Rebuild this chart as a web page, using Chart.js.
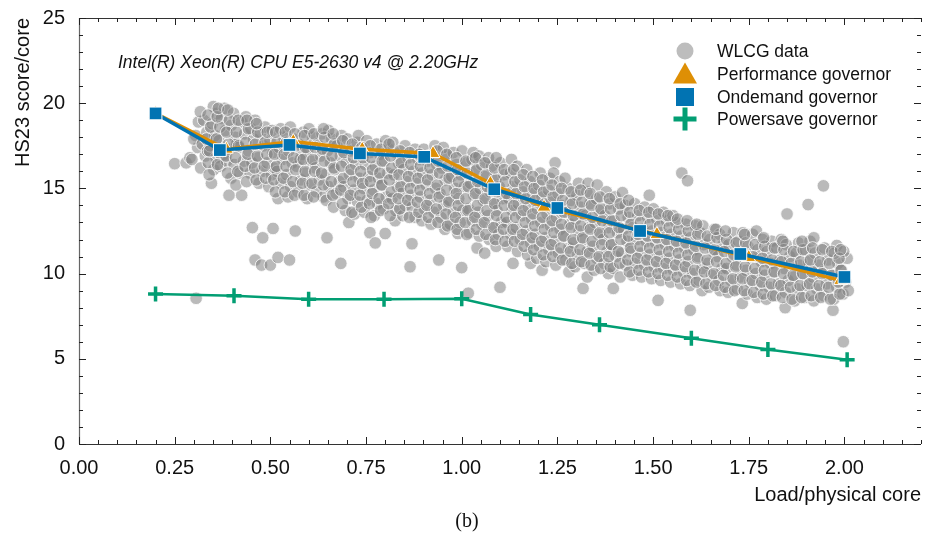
<!DOCTYPE html>
<html>
<head>
<meta charset="utf-8">
<script src="https://cdn.jsdelivr.net/npm/chart.js@4/dist/chart.umd.min.js"></script>
<style>
  html, body { margin: 0; padding: 0; background: #fff; }
  #wrap { width: 934px; height: 541px; }
</style>
</head>
<body>
<div id="wrap"><canvas id="c" width="934" height="541"></canvas></div>
<script>
// axis ticks
const xTicks = [0, 0.25, 0.5, 0.75, 1.0, 1.25, 1.5, 1.75, 2.0];
const yTicks = [0, 5, 10, 15, 20, 25];

// governor benchmark runs
const perfLoad = [0.2, 0.385, 0.56, 0.74, 0.925, 1.075, 1.215, 1.51, 1.75, 1.99];
const perfScore = [19.4, 17.3, 17.75, 17.3, 17.05, 15.3, 13.9, 12.3, 10.95, 9.6];
const ondemandLoad = [0.2, 0.368, 0.55, 0.734, 0.902, 1.085, 1.25, 1.466, 1.728, 2.0];
const ondemandScore = [19.4, 17.25, 17.55, 17.05, 16.85, 14.95, 13.85, 12.5, 11.15, 9.8];
const powersaveLoad = [0.2, 0.405, 0.6, 0.797, 1.0, 1.18, 1.36, 1.6, 1.8, 2.007];
const powersaveScore = [8.8, 8.7, 8.5, 8.5, 8.52, 7.6, 7.0, 6.2, 5.55, 4.95];

// WLCG job measurements (load, score)
const wlcgPoints = [
  [0.25,16.45],[0.28,16.5],[0.306,8.55],[0.29,16.8],
  [0.295,16.7],[0.31,17.4],[0.305,18.1],[0.312,18.9],[0.30,17.9],
  [0.318,16.2],[0.33,16.9],[0.322,17.6],[0.334,18.3],[0.326,19.0],[0.317,19.5],[0.336,17.2],
  [0.346,15.3],[0.352,16.1],[0.358,16.8],[0.343,17.5],[0.355,18.1],[0.348,18.8],[0.36,19.4],[0.351,19.8],
  [0.37,16.3],[0.378,17.0],[0.366,17.8],[0.383,18.4],[0.372,19.1],[0.38,19.7],[0.386,16.6],
  [0.392,14.6],[0.397,15.6],[0.405,16.4],[0.394,17.3],[0.408,18.0],[0.398,18.7],[0.404,19.4],[0.412,17.6],
  [0.425,14.6],[0.42,15.9],[0.43,16.6],[0.418,17.4],[0.433,18.2],[0.424,18.9],[0.436,19.2],
  [0.447,15.9],[0.452,16.5],[0.443,17.2],[0.456,17.9],[0.449,18.5],[0.46,19.0],[0.453,12.7],[0.46,10.8],
  [0.47,15.3],[0.478,16.0],[0.468,16.8],[0.482,17.5],[0.474,18.2],[0.486,18.6],[0.48,12.1],[0.477,10.5],
  [0.496,15.1],[0.503,15.8],[0.492,16.5],[0.507,17.1],[0.499,17.8],[0.505,18.4],[0.507,12.65],[0.50,10.5],[0.511,16.2],
  [0.52,14.4],[0.528,15.3],[0.518,16.0],[0.532,16.7],[0.523,17.4],[0.535,18.0],[0.527,18.5],[0.52,10.95],
  [0.546,14.5],[0.553,15.1],[0.543,15.8],[0.557,16.5],[0.548,17.2],[0.56,17.9],[0.552,18.6],[0.55,10.8],
  [0.565,12.5],[0.572,14.8],[0.58,15.5],[0.569,16.3],[0.583,17.0],[0.574,17.6],[0.586,18.3],[0.578,16.7],
  [0.596,14.4],[0.603,15.2],[0.592,15.9],[0.607,16.6],[0.598,17.3],[0.61,18.0],[0.601,18.5],
  [0.62,14.8],[0.628,15.5],[0.618,16.2],[0.632,16.9],[0.623,17.6],[0.635,18.2],[0.638,14.5],
  [0.648,12.1],[0.646,14.3],[0.653,15.1],[0.643,15.8],[0.657,16.5],[0.649,17.2],[0.66,17.9],[0.652,18.4],
  [0.665,13.9],[0.672,14.7],[0.68,15.4],[0.668,16.1],[0.683,16.9],[0.674,17.5],[0.686,18.1],[0.684,10.6],
  [0.696,13.7],[0.703,14.4],[0.692,15.1],[0.707,15.8],[0.698,16.5],[0.71,17.2],[0.701,17.9],[0.705,13.0],
  [0.72,13.5],[0.728,14.2],[0.718,14.9],[0.732,15.6],[0.723,16.4],[0.735,17.0],[0.727,17.7],[0.73,18.1],
  [0.746,13.6],[0.753,14.3],[0.743,15.0],[0.757,15.7],[0.748,16.4],[0.76,17.1],[0.752,17.8],[0.76,12.4],
  [0.774,11.8],[0.772,13.4],[0.78,14.1],[0.769,14.9],[0.783,15.6],[0.774,16.3],[0.786,17.0],[0.778,17.6],
  [0.80,12.35],[0.796,13.8],[0.803,14.5],[0.792,15.2],[0.807,15.9],[0.798,16.6],[0.81,17.3],[0.801,17.8],
  [0.826,13.1],[0.828,13.7],[0.818,14.4],[0.832,15.1],[0.823,15.8],[0.835,16.5],[0.827,17.1],[0.82,17.7],
  [0.846,13.4],[0.853,14.0],[0.843,14.7],[0.857,15.4],[0.848,16.1],[0.86,16.8],[0.852,17.5],
  [0.87,13.9],[0.87,11.75],[0.865,10.4],[0.878,13.3],[0.868,14.6],[0.882,15.3],[0.874,16.0],[0.886,16.7],[0.878,17.3],
  [0.896,13.1],[0.903,13.8],[0.892,14.5],[0.907,15.2],[0.898,15.9],[0.91,16.6],[0.901,17.3],
  [0.92,12.9],[0.928,13.6],[0.918,14.3],[0.932,15.0],[0.923,15.8],[0.935,16.4],[0.927,17.1],[0.93,17.5],
  [0.94,10.8],[0.956,12.6],[0.946,13.3],[0.953,14.0],[0.943,14.7],[0.957,15.5],[0.948,16.2],[0.96,16.9],[0.952,17.4],
  [0.97,12.9],[0.978,13.6],[0.968,14.3],[0.982,15.0],[0.974,15.7],[0.986,16.4],[0.978,17.1],
  [0.99,12.35],[1.0,10.35],[1.017,8.85],[0.996,13.0],[1.003,13.7],[0.992,14.4],[1.007,15.1],[0.998,15.8],[1.01,16.5],[1.001,17.2],
  [1.02,12.4],[1.028,13.1],[1.018,13.8],[1.032,14.6],[1.023,15.3],[1.035,16.0],[1.027,16.7],[1.03,17.1],
  [1.04,11.5],[1.046,12.2],[1.053,12.9],[1.043,13.6],[1.057,14.3],[1.048,15.0],[1.06,15.7],[1.052,16.4],[1.045,16.9],
  [1.06,11.2],[1.072,12.0],[1.08,12.7],[1.069,13.4],[1.083,14.1],[1.074,14.8],[1.086,15.6],[1.078,16.3],[1.07,16.8],
  [1.09,11.6],[1.1,9.2],[1.096,12.3],[1.103,13.0],[1.092,13.7],[1.107,14.4],[1.098,15.1],[1.11,15.8],[1.101,16.5],
  [1.134,10.6],[1.12,11.6],[1.128,12.3],[1.118,13.0],[1.132,13.7],[1.123,14.4],[1.135,15.1],[1.127,15.9],[1.13,16.7],
  [1.146,11.3],[1.153,12.0],[1.143,12.7],[1.157,13.4],[1.148,14.1],[1.16,14.8],[1.152,15.5],[1.145,16.3],
  [1.18,10.6],[1.172,11.1],[1.18,11.8],[1.169,12.5],[1.183,13.2],[1.174,13.9],[1.186,14.7],[1.178,15.4],[1.17,16.1],
  [1.21,10.2],[1.196,10.9],[1.203,11.6],[1.192,12.3],[1.207,13.0],[1.198,13.8],[1.21,14.5],[1.201,15.2],[1.205,15.9],
  [1.22,10.7],[1.228,11.4],[1.218,12.1],[1.232,12.8],[1.223,13.5],[1.235,14.2],[1.227,14.9],[1.23,15.6],
  [1.244,16.5],[1.24,15.9],[1.246,10.5],[1.253,11.2],[1.243,11.9],[1.257,12.6],[1.248,13.3],[1.26,14.0],[1.252,14.7],[1.256,15.4],
  [1.28,10.1],[1.272,10.8],[1.28,11.5],[1.269,12.2],[1.283,12.9],[1.274,13.6],[1.286,14.3],[1.278,15.0],[1.27,15.6],
  [1.296,10.4],[1.303,11.1],[1.292,11.8],[1.307,12.5],[1.298,13.2],[1.31,13.9],[1.301,14.6],[1.305,15.3],
  [1.317,9.13],[1.328,9.8],[1.32,10.6],[1.328,11.3],[1.318,12.0],[1.332,12.7],[1.323,13.4],[1.335,14.1],[1.327,14.8],[1.33,15.3],
  [1.354,15.2],[1.346,10.2],[1.353,10.9],[1.343,11.6],[1.357,12.3],[1.348,13.0],[1.36,13.7],[1.352,14.4],
  [1.383,10.0],[1.372,10.6],[1.38,11.3],[1.369,12.0],[1.383,12.7],[1.374,13.4],[1.386,14.1],[1.378,14.8],
  [1.396,9.13],[1.396,10.3],[1.403,11.0],[1.392,11.7],[1.407,12.4],[1.398,13.1],[1.41,13.8],[1.401,14.5],
  [1.414,9.8],[1.42,14.75],[1.428,10.5],[1.418,11.2],[1.432,11.9],[1.423,12.6],[1.435,13.3],[1.427,14.0],
  [1.446,9.9],[1.453,10.6],[1.443,11.3],[1.457,12.0],[1.448,12.7],[1.46,13.4],[1.452,14.1],
  [1.47,9.8],[1.478,10.5],[1.468,11.2],[1.482,11.9],[1.474,12.6],[1.486,13.3],[1.478,13.9],[1.49,14.6],
  [1.513,8.43],[1.496,9.7],[1.503,10.4],[1.492,11.1],[1.507,11.8],[1.498,12.5],[1.51,13.2],[1.501,13.8],
  [1.52,9.6],[1.528,10.3],[1.518,11.0],[1.532,11.7],[1.523,12.4],[1.535,13.1],[1.527,13.6],
  [1.546,9.5],[1.553,10.2],[1.543,10.9],[1.557,11.6],[1.548,12.3],[1.56,13.0],[1.552,13.4],
  [1.575,15.9],[1.59,15.45],[1.572,9.4],[1.58,10.1],[1.569,10.8],[1.583,11.5],[1.574,12.2],[1.586,12.9],
  [1.597,7.85],[1.596,9.3],[1.603,10.0],[1.592,10.7],[1.607,11.4],[1.598,12.1],[1.61,12.8],
  [1.628,9.0],[1.62,9.6],[1.628,10.3],[1.618,11.0],[1.632,11.7],[1.623,12.4],[1.63,12.8],
  [1.646,9.2],[1.653,9.9],[1.643,10.6],[1.657,11.3],[1.648,12.0],[1.66,12.6],
  [1.675,9.0],[1.672,9.6],[1.68,10.3],[1.669,11.0],[1.683,11.7],[1.674,12.3],
  [1.696,8.9],[1.703,9.6],[1.692,10.3],[1.707,11.0],[1.698,11.7],[1.71,12.4],
  [1.733,8.25],[1.72,9.1],[1.728,9.8],[1.718,10.5],[1.732,11.2],[1.723,11.9],[1.735,12.4],
  [1.746,8.8],[1.753,9.5],[1.743,10.2],[1.757,10.9],[1.748,11.6],[1.76,12.3],
  [1.77,12.5],[1.772,8.6],[1.78,9.3],[1.769,10.0],[1.783,10.7],[1.774,11.4],[1.786,12.0],
  [1.796,8.5],[1.803,9.2],[1.792,9.9],[1.807,10.6],[1.798,11.3],[1.81,11.9],
  [1.82,8.7],[1.828,9.4],[1.818,10.1],[1.832,10.8],[1.823,11.5],[1.835,12.0],
  [1.85,13.5],[1.845,8.0],[1.846,8.9],[1.853,9.6],[1.843,10.3],[1.857,11.0],[1.848,11.7],
  [1.87,8.4],[1.878,9.1],[1.868,9.8],[1.882,10.5],[1.874,11.2],[1.88,11.8],
  [1.905,14.05],[1.896,8.6],[1.903,9.3],[1.892,10.0],[1.907,10.7],[1.898,11.4],[1.91,11.9],
  [1.92,12.1],[1.92,8.4],[1.928,9.1],[1.918,9.8],[1.932,10.5],[1.923,11.2],
  [1.945,15.15],[1.946,8.7],[1.953,9.4],[1.943,10.1],[1.957,10.8],[1.948,11.5],
  [1.97,7.85],[1.98,11.65],[1.972,8.5],[1.98,9.2],[1.969,9.9],[1.983,10.6],[1.974,11.2],
  [1.997,6.0],[1.996,8.8],[2.003,9.5],[1.992,10.2],[2.007,10.9],[1.998,11.3],[2.01,9.0],
  // second batch of runs
  [0.338,16.5],[0.341,17.2],[0.333,17.9],[0.344,18.6],[0.337,19.3],[0.34,15.8],
  [0.362,16.4],[0.366,17.1],[0.359,17.9],[0.368,18.6],[0.361,19.2],[0.364,19.7],
  [0.388,15.9],[0.384,16.9],[0.391,17.6],[0.386,18.3],[0.393,19.0],[0.389,19.6],
  [0.41,15.2],[0.415,16.0],[0.409,16.8],[0.417,17.5],[0.411,18.3],[0.416,19.0],
  [0.438,15.4],[0.434,16.3],[0.441,17.0],[0.436,17.7],[0.443,18.5],[0.439,19.0],
  [0.463,15.5],[0.459,16.2],[0.466,16.9],[0.461,17.6],[0.467,18.3],[0.464,18.8],
  [0.488,15.6],[0.484,16.3],[0.491,17.0],[0.486,17.7],[0.492,18.3],
  [0.513,14.8],[0.509,15.5],[0.516,16.3],[0.511,17.0],[0.517,17.7],[0.514,18.3],
  [0.538,14.8],[0.534,15.6],[0.541,16.3],[0.536,17.0],[0.542,17.7],[0.539,18.3],
  [0.563,14.6],[0.559,15.4],[0.566,16.1],[0.561,16.8],[0.567,17.5],[0.564,18.2],
  [0.588,14.6],[0.584,15.3],[0.591,16.0],[0.586,16.7],[0.592,17.4],[0.589,18.1],
  [0.613,14.5],[0.609,15.3],[0.616,16.0],[0.611,16.7],[0.617,17.4],[0.614,18.2],
  [0.638,15.2],[0.634,15.9],[0.641,16.6],[0.636,17.3],[0.642,18.0],[0.639,18.5],
  [0.663,14.6],[0.659,15.4],[0.666,16.2],[0.661,16.9],[0.667,17.6],[0.664,18.2],
  [0.688,14.1],[0.684,14.9],[0.691,15.6],[0.686,16.3],[0.692,17.1],[0.689,17.8],
  [0.713,13.6],[0.709,14.6],[0.716,15.4],[0.711,16.1],[0.717,16.8],[0.714,17.6],
  [0.738,13.9],[0.734,14.6],[0.741,15.3],[0.736,16.0],[0.742,16.8],[0.739,17.4],
  [0.763,13.3],[0.759,14.1],[0.766,14.7],[0.761,15.4],[0.767,16.1],[0.764,16.8],[0.761,17.5],
  [0.788,13.7],[0.784,14.4],[0.791,15.2],[0.786,15.9],[0.792,16.6],[0.789,17.3],
  [0.813,13.4],[0.809,14.1],[0.816,14.8],[0.811,15.5],[0.817,16.2],[0.814,16.9],[0.81,17.6],
  [0.838,13.8],[0.834,14.4],[0.841,15.1],[0.836,15.8],[0.842,16.5],[0.839,17.2],
  [0.863,13.3],[0.859,14.3],[0.866,15.0],[0.861,15.7],[0.867,16.4],[0.864,17.1],
  [0.888,13.6],[0.884,14.2],[0.891,14.9],[0.886,15.6],[0.892,16.3],[0.889,17.0],
  [0.913,13.3],[0.909,14.0],[0.916,14.7],[0.911,15.5],[0.917,16.2],[0.914,16.9],
  [0.938,13.0],[0.934,13.8],[0.941,14.5],[0.936,15.2],[0.942,15.9],[0.939,16.6],[0.936,17.2],
  [0.963,12.8],[0.959,13.5],[0.966,14.2],[0.961,14.9],[0.967,15.6],[0.964,16.3],[0.961,17.0],
  [0.988,12.6],[0.984,13.3],[0.991,14.0],[0.986,14.7],[0.992,15.4],[0.989,16.1],[0.986,16.8],
  [1.013,12.3],[1.009,13.0],[1.016,13.7],[1.011,14.4],[1.017,15.1],[1.014,15.9],[1.011,16.6],
  [1.038,12.6],[1.034,13.3],[1.041,14.0],[1.036,14.7],[1.042,15.4],[1.039,16.1],[1.036,16.8],
  [1.063,12.3],[1.059,13.0],[1.066,13.7],[1.061,14.4],[1.067,15.1],[1.064,15.8],[1.061,16.5],
  [1.088,12.0],[1.084,12.7],[1.091,13.4],[1.086,14.1],[1.092,14.8],[1.089,15.5],[1.086,16.2],[1.09,16.8],
  [1.113,11.9],[1.109,12.6],[1.116,13.3],[1.111,14.0],[1.117,14.7],[1.114,15.4],[1.111,16.1],
  [1.138,11.9],[1.134,12.6],[1.141,13.3],[1.136,14.0],[1.142,14.7],[1.139,15.4],[1.136,16.1],
  [1.163,11.6],[1.159,12.3],[1.166,13.0],[1.161,13.7],[1.167,14.4],[1.164,15.1],[1.161,15.8],
  [1.188,11.4],[1.184,12.1],[1.191,12.8],[1.186,13.5],[1.192,14.3],[1.189,15.0],[1.186,15.7],
  [1.213,11.1],[1.209,11.9],[1.216,12.6],[1.211,13.3],[1.217,14.1],[1.214,14.8],[1.211,15.5],
  [1.238,11.0],[1.234,11.7],[1.241,12.4],[1.236,13.1],[1.242,13.8],[1.239,14.5],[1.236,15.2],
  [1.263,10.8],[1.259,11.5],[1.266,12.2],[1.261,12.9],[1.267,13.6],[1.264,14.3],[1.261,15.0],
  [1.288,10.6],[1.284,11.3],[1.291,12.0],[1.286,12.7],[1.292,13.4],[1.289,14.1],[1.286,14.8],
  [1.313,10.7],[1.309,11.4],[1.316,12.1],[1.311,12.8],[1.317,13.5],[1.314,14.2],[1.311,14.9],
  [1.338,10.5],[1.334,11.2],[1.341,11.9],[1.336,12.6],[1.342,13.3],[1.339,14.0],[1.336,14.7],
  [1.363,10.3],[1.359,11.0],[1.366,11.7],[1.361,12.4],[1.367,13.1],[1.364,13.8],[1.361,14.5],
  [1.388,10.4],[1.384,11.0],[1.391,11.7],[1.386,12.4],[1.392,13.1],[1.389,13.8],[1.386,14.4],
  [1.413,10.6],[1.409,11.3],[1.416,12.0],[1.411,12.7],[1.417,13.4],[1.414,14.1],
  [1.438,10.1],[1.434,10.8],[1.441,11.5],[1.436,12.2],[1.442,12.9],[1.439,13.6],[1.436,14.3],
  [1.463,10.2],[1.459,10.9],[1.466,11.6],[1.461,12.3],[1.467,13.0],[1.464,13.7],
  [1.488,10.1],[1.484,10.8],[1.491,11.5],[1.486,12.2],[1.492,12.9],[1.489,13.6],
  [1.513,10.0],[1.509,10.7],[1.516,11.4],[1.511,12.1],[1.517,12.8],[1.514,13.5],
  [1.538,9.9],[1.534,10.6],[1.541,11.3],[1.536,12.0],[1.542,12.7],[1.539,13.4],
  [1.563,9.8],[1.559,10.5],[1.566,11.2],[1.561,11.9],[1.567,12.6],[1.564,13.2],
  [1.588,9.6],[1.584,10.4],[1.591,11.1],[1.586,11.8],[1.592,12.5],[1.589,13.1],
  [1.613,9.5],[1.609,10.2],[1.616,10.9],[1.611,11.6],[1.617,12.3],[1.614,12.9],
  [1.638,9.4],[1.634,10.1],[1.641,10.8],[1.636,11.5],[1.642,12.2],
  [1.663,9.3],[1.659,10.0],[1.666,10.7],[1.661,11.4],[1.667,12.1],[1.664,12.6],
  [1.688,9.2],[1.684,9.9],[1.691,10.6],[1.686,11.3],[1.692,12.0],[1.689,12.5],
  [1.713,9.0],[1.709,9.7],[1.716,10.4],[1.711,11.1],[1.717,11.8],
  [1.738,9.0],[1.734,9.7],[1.741,10.4],[1.736,11.1],[1.742,11.8],[1.739,12.3],
  [1.763,8.9],[1.759,9.6],[1.766,10.3],[1.761,11.0],[1.767,11.7],
  [1.788,8.8],[1.784,9.5],[1.791,10.2],[1.786,10.9],[1.792,11.6],[1.789,12.1],
  [1.813,8.7],[1.809,9.4],[1.816,10.1],[1.811,10.8],[1.817,11.5],
  [1.838,8.6],[1.834,9.3],[1.841,10.0],[1.836,10.7],[1.842,11.4],[1.839,11.9],
  [1.863,8.5],[1.859,9.2],[1.866,9.9],[1.861,10.6],[1.867,11.3],
  [1.888,8.6],[1.884,9.3],[1.891,10.0],[1.886,10.7],[1.892,11.4],[1.889,11.9],
  [1.913,8.7],[1.909,9.4],[1.916,10.1],[1.911,10.8],[1.917,11.5],
  [1.938,8.6],[1.934,9.3],[1.941,10.0],[1.936,10.7],[1.942,11.4],
  [1.963,8.5],[1.959,9.2],[1.966,9.9],[1.961,10.6],[1.967,11.3],
  [1.988,8.8],[1.984,9.5],[1.991,10.2],[1.986,10.9],[1.99,11.4]
];

const BLUE = '#0173b2';
const ORANGE = '#de8f05';
const GREEN = '#029e73';
const SANS = '"Liberation Sans", Arial, Helvetica, sans-serif';

function toXY(xs, ys) {
  return xs.map((x, i) => ({ x: x, y: ys[i] }));
}

// box with inward ticks, legend and cpu note
const framePlugin = {
  id: 'frame',
  afterDraw(chart) {
    const ctx = chart.ctx;
    const a = chart.chartArea;
    const xs = chart.scales.x, ys = chart.scales.y;
    ctx.save();

    // spines
    ctx.lineWidth = 1.2;
    ctx.strokeStyle = '#333';
    ctx.beginPath();
    ctx.moveTo(a.left, a.top + 0.5); ctx.lineTo(a.right, a.top + 0.5);
    ctx.moveTo(a.left, a.bottom + 0.5); ctx.lineTo(a.right, a.bottom + 0.5);
    ctx.stroke();
    ctx.strokeStyle = '#666';
    ctx.beginPath();
    ctx.moveTo(a.left + 0.5, a.top); ctx.lineTo(a.left + 0.5, a.bottom);
    ctx.stroke();

    // ticks
    ctx.lineWidth = 1;
    ctx.strokeStyle = '#222';
    ctx.beginPath();
    for (let i = 0; i <= 44; i++) {
      const px = Math.round(xs.getPixelForValue(i * 0.05)) + 0.5;
      const len = i % 5 === 0 ? 7 : 4;
      ctx.moveTo(px, a.bottom); ctx.lineTo(px, a.bottom - len);
      ctx.moveTo(px, a.top); ctx.lineTo(px, a.top + len);
    }
    for (let j = 0; j <= 25; j++) {
      const py = Math.round(ys.getPixelForValue(j)) + 0.5;
      const len = j % 5 === 0 ? 7 : 4;
      ctx.moveTo(a.left, py); ctx.lineTo(a.left + len, py);
      ctx.moveTo(a.right, py); ctx.lineTo(a.right - len, py);
    }
    ctx.stroke();

    // cpu note
    ctx.fillStyle = '#111';
    ctx.font = 'italic 17.5px ' + SANS;
    ctx.textAlign = 'left';
    ctx.textBaseline = 'middle';
    ctx.fillText('Intel(R) Xeon(R) CPU E5-2630 v4 @ 2.20GHz', 118, 63);

    // legend
    const mx = 685, tx = 717;
    const rows = [51, 74, 97, 119];
    ctx.fillStyle = '#bdbdbd';
    ctx.beginPath(); ctx.arc(mx, rows[0], 8.5, 0, Math.PI * 2); ctx.fill();
    ctx.fillStyle = ORANGE;
    ctx.beginPath();
    ctx.moveTo(mx, rows[1] - 11.5); ctx.lineTo(mx + 12, rows[1] + 9.5); ctx.lineTo(mx - 12, rows[1] + 9.5);
    ctx.closePath(); ctx.fill();
    ctx.fillStyle = BLUE;
    ctx.fillRect(mx - 9, rows[2] - 9, 18, 18);
    ctx.fillStyle = GREEN;
    ctx.fillRect(mx - 11.5, rows[3] - 2.5, 23, 5);
    ctx.fillRect(mx - 2.5, rows[3] - 11.5, 5, 23);

    ctx.fillStyle = '#111';
    ctx.font = '17.5px ' + SANS;
    const names = ['WLCG data', 'Performance governor', 'Ondemand governor', 'Powersave governor'];
    names.forEach((n, k) => ctx.fillText(n, tx, rows[k] + 1));

    // sub-figure tag
    ctx.font = '20px "Liberation Serif", "Times New Roman", serif';
    ctx.textAlign = 'center';
    ctx.fillText('(b)', 467, 522);
    ctx.restore();
  }
};

const tickFont = { family: SANS, size: 20 };

new Chart(document.getElementById('c').getContext('2d'), {
  type: 'scatter',
  data: {
    datasets: [
      {
        label: 'Powersave governor',
        data: toXY(powersaveLoad, powersaveScore),
        showLine: true,
        borderColor: GREEN,
        borderWidth: 2.5,
        pointStyle: 'cross',
        pointRadius: 7.5,
        pointBorderWidth: 3.5,
        pointBorderColor: GREEN,
        order: 1
      },
      {
        label: 'Ondemand governor',
        data: toXY(ondemandLoad, ondemandScore),
        showLine: true,
        borderColor: BLUE,
        borderWidth: 3.5,
        pointStyle: 'rect',
        pointRadius: 9,
        pointBackgroundColor: BLUE,
        pointBorderColor: '#fff',
        pointBorderWidth: 1,
        order: 2
      },
      {
        label: 'Performance governor',
        data: toXY(perfLoad, perfScore),
        showLine: true,
        borderColor: ORANGE,
        borderWidth: 3.5,
        pointStyle: 'triangle',
        pointRadius: 8,
        pointBackgroundColor: ORANGE,
        pointBorderColor: '#fff',
        pointBorderWidth: 1,
        order: 3
      },
      {
        label: 'WLCG data',
        data: wlcgPoints.map(p => ({ x: p[0], y: p[1] })),
        pointRadius: 6.3,
        backgroundColor: 'rgba(130,130,130,0.55)',
        borderColor: 'rgba(255,255,255,0.8)',
        borderWidth: 1,
        order: 4
      }
    ]
  },
  options: {
    responsive: false,
    animation: false,
    devicePixelRatio: 1,
    layout: { padding: { left: 0, right: 13, top: 17, bottom: 0 } },
    plugins: { legend: { display: false }, tooltip: { enabled: false } },
    scales: {
      x: {
        type: 'linear',
        min: 0,
        max: 2.2,
        afterBuildTicks: s => { s.ticks = xTicks.map(v => ({ value: v })); },
        afterFit: s => { s.height = 97; },
        grid: { display: false },
        border: { display: false },
        ticks: { padding: 4, color: '#111', font: tickFont, maxRotation: 0, callback: v => Number(v).toFixed(2) },
        title: {
          display: true, text: 'Load/physical core', align: 'end', color: '#111',
          font: { family: SANS, size: 20 }, padding: { top: 0, bottom: 34 }
        }
      },
      y: {
        min: 0,
        max: 25,
        afterBuildTicks: s => { s.ticks = yTicks.map(v => ({ value: v })); },
        afterFit: s => { s.width = 79; },
        grid: { display: false },
        border: { display: false },
        ticks: { padding: 6, color: '#111', font: tickFont },
        title: {
          display: true, text: 'HS23 score/core', align: 'end', color: '#111',
          font: { family: SANS, size: 20 }, padding: { top: 11, bottom: 0 }
        }
      }
    }
  },
  plugins: [framePlugin]
});
</script>
</body>
</html>
